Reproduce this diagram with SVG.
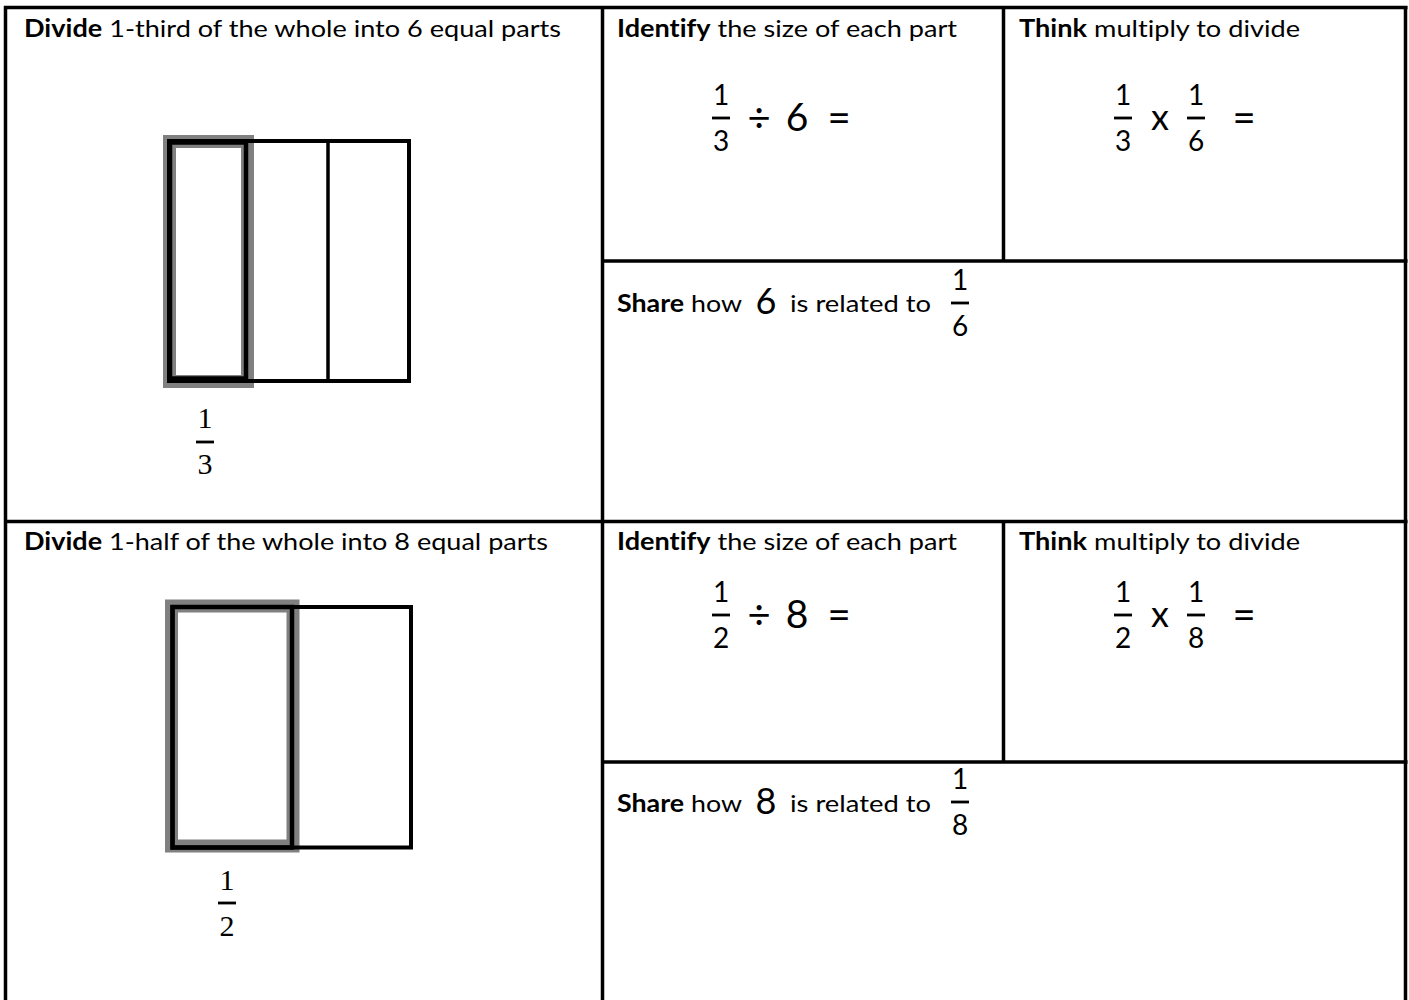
<svg xmlns="http://www.w3.org/2000/svg" width="1409" height="1000" viewBox="0 0 1409 1000">
<style>
.grid{stroke:#000;stroke-width:3.5;fill:none}
.hd{font-family:Lato,"Open Sans","Liberation Sans",sans-serif;font-size:24px;fill:#000;font-variant-ligatures:none}
.b{font-weight:700}
.fr{font-family:Lato,"Open Sans","Liberation Sans",sans-serif;font-size:28px;fill:#000;text-anchor:middle}
.op{font-family:Lato,"Open Sans","Liberation Sans",sans-serif;font-size:40px;fill:#000;text-anchor:middle}
.big{font-family:Lato,"Open Sans","Liberation Sans",sans-serif;font-size:39px;fill:#000;text-anchor:middle}
.mid{font-family:Lato,"Open Sans","Liberation Sans",sans-serif;font-size:36px;fill:#000;text-anchor:middle}
.sf{font-family:"Liberation Serif","DejaVu Serif",serif;font-size:30px;fill:#000;text-anchor:middle}
.bar{stroke:#000;stroke-width:2.8}
.hl{fill:none;stroke:#808080;stroke-width:13}
.box{fill:none;stroke:#000;stroke-width:4}
.hb{fill:none;stroke:#000;stroke-width:4.5}
.dv{stroke:#000;stroke-width:3.5}
</style>
<rect width="1409" height="1000" fill="#fff"/>
<g id="grid">
<line class="grid" x1="4" y1="7.5" x2="1407.5" y2="7.5"/>
<line class="grid" x1="4" y1="521.5" x2="1407.5" y2="521.5"/>
<line class="grid" x1="602.5" y1="261" x2="1407.5" y2="261"/>
<line class="grid" x1="602.5" y1="762" x2="1407.5" y2="762"/>
<line class="grid" x1="5.5" y1="6" x2="5.5" y2="1000"/>
<line class="grid" x1="602.5" y1="6" x2="602.5" y2="1000"/>
<line class="grid" x1="1003.5" y1="6" x2="1003.5" y2="262"/>
<line class="grid" x1="1003.5" y1="520" x2="1003.5" y2="763"/>
<line class="grid" x1="1405.5" y1="6" x2="1405.5" y2="1000"/>
</g>
<g id="cell-divide-third">
<text class="hd" x="24" y="37" textLength="537" lengthAdjust="spacingAndGlyphs"><tspan class="b">Divide</tspan> 1-third of the whole into 6 equal parts</text>
<rect class="hl" x="169.5" y="141.5" width="78" height="240"/>
<rect class="box" x="169" y="141" width="240" height="240"/>
<line class="dv" x1="328" y1="141" x2="328" y2="381"/>
<rect class="hb" x="170" y="142.5" width="76" height="236"/>
<text class="sf" x="205" y="428">1</text>
<line class="bar" x1="196" y1="442" x2="214" y2="442"/>
<text class="sf" x="205" y="474">3</text>
</g>
<g id="cell-identify-1">
<text class="hd" x="617" y="37" textLength="340" lengthAdjust="spacingAndGlyphs"><tspan class="b">Identify</tspan> the size of each part</text>
<text class="fr" x="721" y="105">1</text>
<line class="bar" x1="712" y1="118" x2="730" y2="118"/>
<text class="fr" x="721" y="151">3</text>
<text class="op" x="759" y="132">÷</text>
<text class="big" x="797" y="131">6</text>
<text class="op" x="839" y="132">=</text>
</g>
<g id="cell-think-1">
<text class="hd" x="1019" y="37" textLength="281" lengthAdjust="spacingAndGlyphs"><tspan class="b">Think</tspan> multiply to divide</text>
<text class="fr" x="1123" y="105">1</text>
<line class="bar" x1="1114" y1="118" x2="1132" y2="118"/>
<text class="fr" x="1123" y="151">3</text>
<text class="mid" x="1160" y="130">x</text>
<text class="fr" x="1196" y="105">1</text>
<line class="bar" x1="1187" y1="118" x2="1205" y2="118"/>
<text class="fr" x="1196" y="151">6</text>
<text class="op" x="1244" y="132">=</text>
</g>
<g id="cell-share-1">
<text class="hd" x="617" y="312" textLength="125" lengthAdjust="spacingAndGlyphs"><tspan class="b">Share</tspan> how</text>
<text class="mid" x="766" y="314">6</text>
<text class="hd" x="790" y="312" textLength="141" lengthAdjust="spacingAndGlyphs">is related to</text>
<text class="fr" x="960" y="290">1</text>
<line class="bar" x1="951" y1="303" x2="969" y2="303"/>
<text class="fr" x="960" y="336">6</text>
</g>
<g id="cell-divide-half">
<text class="hd" x="24" y="550" textLength="524" lengthAdjust="spacingAndGlyphs"><tspan class="b">Divide</tspan> 1-half of the whole into 8 equal parts</text>
<rect class="hl" x="171.5" y="606" width="121.5" height="240"/>
<rect class="box" x="172.5" y="607" width="238.5" height="240.5"/>
<rect class="hb" x="172.5" y="607" width="119.5" height="240.5"/>
<text class="sf" x="227" y="890">1</text>
<line class="bar" x1="218" y1="903" x2="236" y2="903"/>
<text class="sf" x="227" y="936">2</text>
</g>
<g id="cell-identify-2">
<text class="hd" x="617" y="550" textLength="340" lengthAdjust="spacingAndGlyphs"><tspan class="b">Identify</tspan> the size of each part</text>
<text class="fr" x="721" y="602">1</text>
<line class="bar" x1="712" y1="615" x2="730" y2="615"/>
<text class="fr" x="721" y="648">2</text>
<text class="op" x="759" y="629">÷</text>
<text class="big" x="797" y="628">8</text>
<text class="op" x="839" y="629">=</text>
</g>
<g id="cell-think-2">
<text class="hd" x="1019" y="550" textLength="281" lengthAdjust="spacingAndGlyphs"><tspan class="b">Think</tspan> multiply to divide</text>
<text class="fr" x="1123" y="602">1</text>
<line class="bar" x1="1114" y1="615" x2="1132" y2="615"/>
<text class="fr" x="1123" y="648">2</text>
<text class="mid" x="1160" y="627">x</text>
<text class="fr" x="1196" y="602">1</text>
<line class="bar" x1="1187" y1="615" x2="1205" y2="615"/>
<text class="fr" x="1196" y="648">8</text>
<text class="op" x="1244" y="629">=</text>
</g>
<g id="cell-share-2">
<text class="hd" x="617" y="812" textLength="125" lengthAdjust="spacingAndGlyphs"><tspan class="b">Share</tspan> how</text>
<text class="mid" x="766" y="814">8</text>
<text class="hd" x="790" y="812" textLength="141" lengthAdjust="spacingAndGlyphs">is related to</text>
<text class="fr" x="960" y="789">1</text>
<line class="bar" x1="951" y1="802" x2="969" y2="802"/>
<text class="fr" x="960" y="835">8</text>
</g>
</svg>
